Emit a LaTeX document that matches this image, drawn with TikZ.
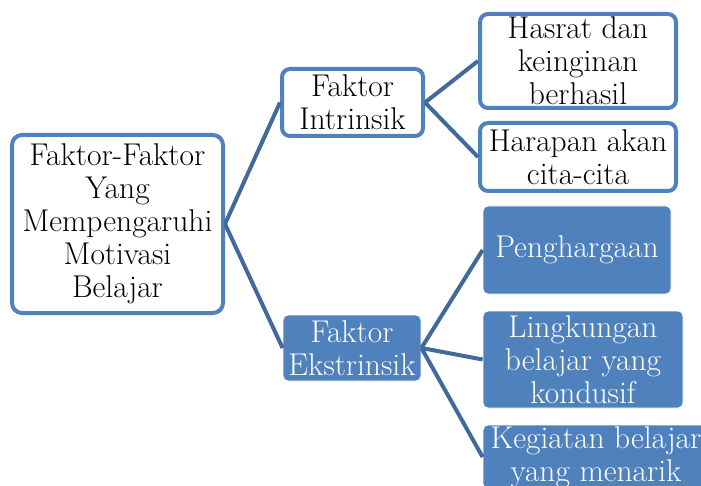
\documentclass[tikz,border=0pt]{standalone}
\definecolor{obl}{HTML}{4F81BD}
\definecolor{lnk}{HTML}{41699C}
\begin{document}
\begin{tikzpicture}[x=1pt,y=-1pt,
  every node/.style={font=\rmfamily\fontsize{31.5}{33}\selectfont, align=center, inner sep=0pt},
  wbox/.style={draw=obl, line width=4pt, fill=white, rounded corners=10pt, text=black},
  bbox/.style={draw=white, line width=0.8pt, fill=obl, rounded corners=5pt, text=white},
  link/.style={draw=lnk, line width=4pt}]
\useasboundingbox (0,0) rectangle (701,486);
\clip (0,0) rectangle (701,486);
\node[wbox, minimum width=211pt, minimum height=178pt] (main) at (117.5,224)
  {Faktor-Faktor\\Yang\\Mempengaruhi\\Motivasi\\Belajar};
\node[wbox, rounded corners=8pt, minimum width=141pt, minimum height=67pt] (intr) at (352.5,102.5)
  {Faktor\\Intrinsik};
\node[bbox, minimum width=138pt, minimum height=66pt] (ekst) at (352,348)
  {Faktor\\Ekstrinsik};
\node[wbox, rounded corners=8pt, minimum width=196pt, minimum height=94pt] (hasrat) at (578,61)
  {Hasrat dan\\keinginan\\berhasil};
\node[wbox, rounded corners=8pt, minimum width=196pt, minimum height=68pt] (harap) at (578,157)
  {Harapan akan\\cita-cita};
\node[bbox, minimum width=188pt, minimum height=88pt] (peng) at (577,250)
  {Penghargaan};
\node[bbox, minimum width=200pt, minimum height=97pt] (ling) at (583,359.5)
  {Lingkungan\\belajar yang\\kondusif};
\node[bbox, minimum width=226pt, minimum height=64pt] (keg) at (596,457)
  {Kegiatan belajar\\yang menarik};
\draw[link] (main.east) -- (intr.west);
\draw[link] (main.east) -- (ekst.west);
\draw[link] (intr.east) -- (hasrat.west);
\draw[link] (intr.east) -- (harap.west);
\draw[link] (ekst.east) -- (peng.west);
\draw[link] (ekst.east) -- (ling.west);
\draw[link] (ekst.east) -- (keg.west);
\end{tikzpicture}
\end{document}
